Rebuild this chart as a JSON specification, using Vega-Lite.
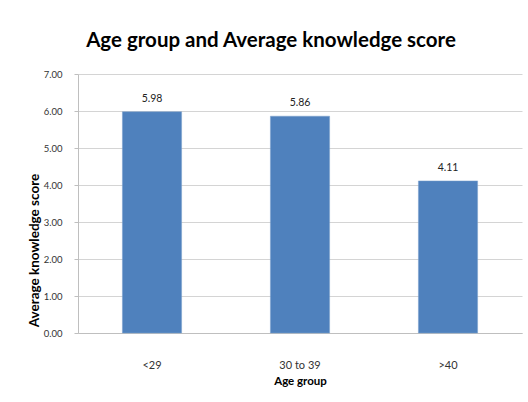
{
  "$schema": "https://vega.github.io/schema/vega-lite/v6.json",
  "width": 444,
  "height": 259,
  "autosize": {"type": "none"},
  "padding": {"left": 78, "top": 74, "right": 6, "bottom": 69},
  "background": "white",
  "title": {
    "text": "Age group and Average knowledge score",
    "font": "Lato",
    "fontSize": 20.5,
    "fontWeight": "bold",
    "color": "#000000",
    "anchor": "middle",
    "dx": -29,
    "offset": 18
  },
  "data": {
    "values": [
      {"group": "<29", "score": 5.98},
      {"group": "30 to 39", "score": 5.86},
      {"group": ">40", "score": 4.11}
    ]
  },
  "encoding": {
    "x": {
      "field": "group",
      "type": "nominal",
      "sort": null,
      "scale": {"paddingInner": 0.6, "paddingOuter": 0.3},
      "axis": {
        "title": "Age group",
        "labelAngle": 0,
        "labelFont": "Lato",
        "labelFontSize": 11,
        "labelColor": "#333333",
        "labelPadding": 26,
        "ticks": false,
        "domainColor": "#BFBFBF",
        "titleFont": "Lato",
        "titleFontSize": 11.5,
        "titleFontWeight": "bold",
        "titleColor": "#000000",
        "titlePadding": 5
      }
    },
    "y": {
      "field": "score",
      "type": "quantitative",
      "scale": {"domain": [0, 7]},
      "axis": {
        "title": "Average knowledge score",
        "values": [0, 1, 2, 3, 4, 5, 6, 7],
        "format": ".2f",
        "labelFont": "Lato",
        "labelFontSize": 9.5,
        "labelColor": "#333333",
        "labelPadding": 12,
        "tickSize": 4,
        "tickColor": "#BFBFBF",
        "domainColor": "#BFBFBF",
        "gridColor": "#D4D4D4",
        "titleFont": "Lato",
        "titleFontSize": 13.5,
        "titleFontWeight": "bold",
        "titleColor": "#000000",
        "titleAngle": -90,
        "titleX": -44,
        "titleY": 176,
        "titleAlign": "center",
        "titleBaseline": "middle"
      }
    }
  },
  "layer": [
    {"mark": {"type": "bar", "color": "#4F81BD", "stroke": "#7BA0CD", "strokeWidth": 0.5}},
    {
      "mark": {"type": "text", "baseline": "bottom", "dy": -8, "font": "Lato", "fontSize": 10.5, "color": "#222222"},
      "encoding": {"text": {"field": "score", "type": "quantitative", "format": ".2f"}}
    }
  ],
  "config": {"view": {"stroke": null}}
}
